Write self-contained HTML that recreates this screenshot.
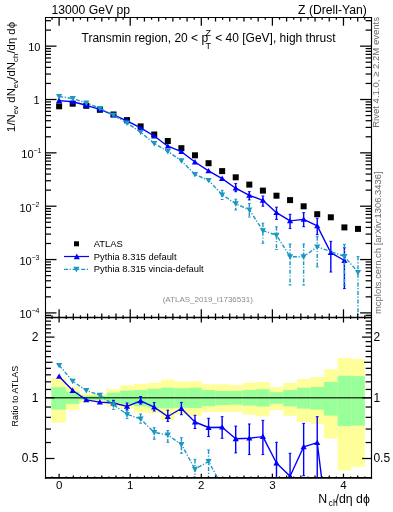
<!DOCTYPE html><html><head><meta charset="utf-8"><style>html,body{margin:0;padding:0;background:#fff;overflow:hidden}svg{display:block;will-change:transform}text{font-family:"Liberation Sans",sans-serif;}</style></head><body>
<svg width="393" height="512" viewBox="0 0 393 512">
<defs><clipPath id="cm"><rect x="45.5" y="17.5" width="325.60" height="300.00"/></clipPath><clipPath id="cr"><rect x="45.5" y="317.5" width="325.60" height="160.20"/></clipPath></defs>
<g clip-path="url(#cr)">
<rect x="51.30" y="378.00" width="14.61" height="44.60" fill="#ffff99"/>
<rect x="65.91" y="386.50" width="13.58" height="23.30" fill="#ffff99"/>
<rect x="79.50" y="393.30" width="13.58" height="9.20" fill="#ffff99"/>
<rect x="93.08" y="394.00" width="13.58" height="7.70" fill="#ffff99"/>
<rect x="106.67" y="389.20" width="13.58" height="17.80" fill="#ffff99"/>
<rect x="120.25" y="385.20" width="13.58" height="23.70" fill="#ffff99"/>
<rect x="133.84" y="383.80" width="13.58" height="28.60" fill="#ffff99"/>
<rect x="147.42" y="382.80" width="13.58" height="30.40" fill="#ffff99"/>
<rect x="161.01" y="379.70" width="13.58" height="40.30" fill="#ffff99"/>
<rect x="174.59" y="381.60" width="13.58" height="32.60" fill="#ffff99"/>
<rect x="188.18" y="381.20" width="13.58" height="34.80" fill="#ffff99"/>
<rect x="201.76" y="384.30" width="13.58" height="27.50" fill="#ffff99"/>
<rect x="215.35" y="384.30" width="13.58" height="27.70" fill="#ffff99"/>
<rect x="228.93" y="385.10" width="13.58" height="26.70" fill="#ffff99"/>
<rect x="242.52" y="382.80" width="13.58" height="31.70" fill="#ffff99"/>
<rect x="256.10" y="382.00" width="13.58" height="34.20" fill="#ffff99"/>
<rect x="269.69" y="386.90" width="13.58" height="23.10" fill="#ffff99"/>
<rect x="283.27" y="382.80" width="13.58" height="33.10" fill="#ffff99"/>
<rect x="296.86" y="379.00" width="13.58" height="43.00" fill="#ffff99"/>
<rect x="310.44" y="377.10" width="13.58" height="46.90" fill="#ffff99"/>
<rect x="324.03" y="369.30" width="13.58" height="69.20" fill="#ffff99"/>
<rect x="337.61" y="358.00" width="13.58" height="112.50" fill="#ffff99"/>
<rect x="351.20" y="359.10" width="13.58" height="107.70" fill="#ffff99"/>
<rect x="51.30" y="387.20" width="14.61" height="22.40" fill="#99ff99"/>
<rect x="65.91" y="391.70" width="13.58" height="12.20" fill="#99ff99"/>
<rect x="79.50" y="395.60" width="13.58" height="4.45" fill="#99ff99"/>
<rect x="93.08" y="395.60" width="13.58" height="4.45" fill="#99ff99"/>
<rect x="106.67" y="392.60" width="13.58" height="10.60" fill="#99ff99"/>
<rect x="120.25" y="390.60" width="13.58" height="14.20" fill="#99ff99"/>
<rect x="133.84" y="390.00" width="13.58" height="16.30" fill="#99ff99"/>
<rect x="147.42" y="388.60" width="13.58" height="19.20" fill="#99ff99"/>
<rect x="161.01" y="387.70" width="13.58" height="20.70" fill="#99ff99"/>
<rect x="174.59" y="388.20" width="13.58" height="19.60" fill="#99ff99"/>
<rect x="188.18" y="387.80" width="13.58" height="20.20" fill="#99ff99"/>
<rect x="201.76" y="390.00" width="13.58" height="16.20" fill="#99ff99"/>
<rect x="215.35" y="391.00" width="13.58" height="14.00" fill="#99ff99"/>
<rect x="228.93" y="391.00" width="13.58" height="13.70" fill="#99ff99"/>
<rect x="242.52" y="389.90" width="13.58" height="15.70" fill="#99ff99"/>
<rect x="256.10" y="389.20" width="13.58" height="17.30" fill="#99ff99"/>
<rect x="269.69" y="392.20" width="13.58" height="11.60" fill="#99ff99"/>
<rect x="283.27" y="389.90" width="13.58" height="16.40" fill="#99ff99"/>
<rect x="296.86" y="387.70" width="13.58" height="20.90" fill="#99ff99"/>
<rect x="310.44" y="386.90" width="13.58" height="22.70" fill="#99ff99"/>
<rect x="324.03" y="382.00" width="13.58" height="33.60" fill="#99ff99"/>
<rect x="337.61" y="375.70" width="13.58" height="50.50" fill="#99ff99"/>
<rect x="351.20" y="376.10" width="13.58" height="49.50" fill="#99ff99"/>
<line x1="45.5" y1="397.7" x2="371.1" y2="397.7" stroke="#000" stroke-opacity="0.72" stroke-width="1.4"/>
<polyline points="59.12,376.40 72.70,390.50 86.29,399.90 99.87,402.10 113.46,403.00 127.04,406.40 140.63,400.80 154.21,407.10 167.80,416.50 181.38,408.50 194.97,422.00 208.55,427.50 222.14,427.20 235.72,438.80 249.31,438.20 262.89,436.60 276.48,463.00 290.06,476.30 303.65,446.80 317.23,442.70 330.82,552.00" fill="none" stroke="#0000ff" stroke-width="1.4" stroke-linejoin="round"/>
<line x1="113.46" y1="400.30" x2="113.46" y2="405.60" stroke="#0000ff" stroke-width="1.4"/><line x1="112.06" y1="400.30" x2="114.86" y2="400.30" stroke="#0000ff" stroke-width="1"/><line x1="112.06" y1="405.60" x2="114.86" y2="405.60" stroke="#0000ff" stroke-width="1"/>
<line x1="127.04" y1="403.00" x2="127.04" y2="410.00" stroke="#0000ff" stroke-width="1.4"/><line x1="125.64" y1="403.00" x2="128.44" y2="403.00" stroke="#0000ff" stroke-width="1"/><line x1="125.64" y1="410.00" x2="128.44" y2="410.00" stroke="#0000ff" stroke-width="1"/>
<line x1="140.63" y1="396.50" x2="140.63" y2="404.10" stroke="#0000ff" stroke-width="1.4"/><line x1="139.23" y1="396.50" x2="142.03" y2="396.50" stroke="#0000ff" stroke-width="1"/><line x1="139.23" y1="404.10" x2="142.03" y2="404.10" stroke="#0000ff" stroke-width="1"/>
<line x1="154.21" y1="402.60" x2="154.21" y2="411.00" stroke="#0000ff" stroke-width="1.4"/><line x1="152.81" y1="402.60" x2="155.61" y2="402.60" stroke="#0000ff" stroke-width="1"/><line x1="152.81" y1="411.00" x2="155.61" y2="411.00" stroke="#0000ff" stroke-width="1"/>
<line x1="167.80" y1="410.20" x2="167.80" y2="421.40" stroke="#0000ff" stroke-width="1.4"/><line x1="166.40" y1="410.20" x2="169.20" y2="410.20" stroke="#0000ff" stroke-width="1"/><line x1="166.40" y1="421.40" x2="169.20" y2="421.40" stroke="#0000ff" stroke-width="1"/>
<line x1="181.38" y1="402.40" x2="181.38" y2="414.70" stroke="#0000ff" stroke-width="1.4"/><line x1="179.98" y1="402.40" x2="182.78" y2="402.40" stroke="#0000ff" stroke-width="1"/><line x1="179.98" y1="414.70" x2="182.78" y2="414.70" stroke="#0000ff" stroke-width="1"/>
<line x1="194.97" y1="415.30" x2="194.97" y2="428.50" stroke="#0000ff" stroke-width="1.4"/><line x1="193.57" y1="415.30" x2="196.37" y2="415.30" stroke="#0000ff" stroke-width="1"/><line x1="193.57" y1="428.50" x2="196.37" y2="428.50" stroke="#0000ff" stroke-width="1"/>
<line x1="208.55" y1="418.30" x2="208.55" y2="436.60" stroke="#0000ff" stroke-width="1.4"/><line x1="207.15" y1="418.30" x2="209.95" y2="418.30" stroke="#0000ff" stroke-width="1"/><line x1="207.15" y1="436.60" x2="209.95" y2="436.60" stroke="#0000ff" stroke-width="1"/>
<line x1="222.14" y1="416.70" x2="222.14" y2="438.30" stroke="#0000ff" stroke-width="1.4"/><line x1="220.74" y1="416.70" x2="223.54" y2="416.70" stroke="#0000ff" stroke-width="1"/><line x1="220.74" y1="438.30" x2="223.54" y2="438.30" stroke="#0000ff" stroke-width="1"/>
<line x1="235.72" y1="426.10" x2="235.72" y2="452.90" stroke="#0000ff" stroke-width="1.4"/><line x1="234.32" y1="426.10" x2="237.12" y2="426.10" stroke="#0000ff" stroke-width="1"/><line x1="234.32" y1="452.90" x2="237.12" y2="452.90" stroke="#0000ff" stroke-width="1"/>
<line x1="249.31" y1="424.00" x2="249.31" y2="454.60" stroke="#0000ff" stroke-width="1.4"/><line x1="247.91" y1="424.00" x2="250.71" y2="424.00" stroke="#0000ff" stroke-width="1"/><line x1="247.91" y1="454.60" x2="250.71" y2="454.60" stroke="#0000ff" stroke-width="1"/>
<line x1="262.89" y1="420.40" x2="262.89" y2="454.60" stroke="#0000ff" stroke-width="1.4"/><line x1="261.49" y1="420.40" x2="264.29" y2="420.40" stroke="#0000ff" stroke-width="1"/><line x1="261.49" y1="454.60" x2="264.29" y2="454.60" stroke="#0000ff" stroke-width="1"/>
<line x1="276.48" y1="442.30" x2="276.48" y2="490.00" stroke="#0000ff" stroke-width="1.4"/><line x1="275.08" y1="442.30" x2="277.88" y2="442.30" stroke="#0000ff" stroke-width="1"/><line x1="275.08" y1="490.00" x2="277.88" y2="490.00" stroke="#0000ff" stroke-width="1"/>
<line x1="290.06" y1="453.30" x2="290.06" y2="500.00" stroke="#0000ff" stroke-width="1.4"/><line x1="288.66" y1="453.30" x2="291.46" y2="453.30" stroke="#0000ff" stroke-width="1"/><line x1="288.66" y1="500.00" x2="291.46" y2="500.00" stroke="#0000ff" stroke-width="1"/>
<line x1="303.65" y1="423.40" x2="303.65" y2="475.70" stroke="#0000ff" stroke-width="1.4"/><line x1="302.25" y1="423.40" x2="305.05" y2="423.40" stroke="#0000ff" stroke-width="1"/><line x1="302.25" y1="475.70" x2="305.05" y2="475.70" stroke="#0000ff" stroke-width="1"/>
<line x1="317.23" y1="416.70" x2="317.23" y2="490.00" stroke="#0000ff" stroke-width="1.4"/><line x1="315.83" y1="416.70" x2="318.63" y2="416.70" stroke="#0000ff" stroke-width="1"/><line x1="315.83" y1="490.00" x2="318.63" y2="490.00" stroke="#0000ff" stroke-width="1"/>
<path d="M56.02,378.80L62.22,378.80L59.12,373.40Z" fill="#0000ff"/>
<path d="M69.60,392.90L75.80,392.90L72.70,387.50Z" fill="#0000ff"/>
<path d="M83.19,402.30L89.39,402.30L86.29,396.90Z" fill="#0000ff"/>
<path d="M96.77,404.50L102.97,404.50L99.87,399.10Z" fill="#0000ff"/>
<path d="M110.36,405.40L116.56,405.40L113.46,400.00Z" fill="#0000ff"/>
<path d="M123.94,408.80L130.14,408.80L127.04,403.40Z" fill="#0000ff"/>
<path d="M137.53,403.20L143.73,403.20L140.63,397.80Z" fill="#0000ff"/>
<path d="M151.11,409.50L157.31,409.50L154.21,404.10Z" fill="#0000ff"/>
<path d="M164.70,418.90L170.90,418.90L167.80,413.50Z" fill="#0000ff"/>
<path d="M178.28,410.90L184.48,410.90L181.38,405.50Z" fill="#0000ff"/>
<path d="M191.87,424.40L198.07,424.40L194.97,419.00Z" fill="#0000ff"/>
<path d="M205.45,429.90L211.65,429.90L208.55,424.50Z" fill="#0000ff"/>
<path d="M219.04,429.60L225.24,429.60L222.14,424.20Z" fill="#0000ff"/>
<path d="M232.62,441.20L238.82,441.20L235.72,435.80Z" fill="#0000ff"/>
<path d="M246.21,440.60L252.41,440.60L249.31,435.20Z" fill="#0000ff"/>
<path d="M259.79,439.00L265.99,439.00L262.89,433.60Z" fill="#0000ff"/>
<path d="M273.38,465.40L279.58,465.40L276.48,460.00Z" fill="#0000ff"/>
<path d="M286.96,478.70L293.16,478.70L290.06,473.30Z" fill="#0000ff"/>
<path d="M300.55,449.20L306.75,449.20L303.65,443.80Z" fill="#0000ff"/>
<path d="M314.13,445.10L320.33,445.10L317.23,439.70Z" fill="#0000ff"/>
<path d="M327.72,554.40L333.92,554.40L330.82,549.00Z" fill="#0000ff"/>
<polyline points="59.12,365.30 72.70,381.20 86.29,390.50 99.87,395.20 113.46,404.80 127.04,414.30 140.63,419.00 154.21,432.40 167.80,435.00 181.38,444.40 194.97,469.20 208.55,461.50 222.14,486.00" fill="none" stroke="#1a97c2" stroke-width="1.4" stroke-dasharray="4,1.6,1.2,1.8" stroke-linejoin="round"/>
<line x1="113.46" y1="401.80" x2="113.46" y2="409.40" stroke="#1a97c2" stroke-width="1.4" stroke-dasharray="4,1.6,1.2,1.8"/><line x1="112.06" y1="401.80" x2="114.86" y2="401.80" stroke="#1a97c2" stroke-width="1"/><line x1="112.06" y1="409.40" x2="114.86" y2="409.40" stroke="#1a97c2" stroke-width="1"/>
<line x1="127.04" y1="410.60" x2="127.04" y2="418.60" stroke="#1a97c2" stroke-width="1.4" stroke-dasharray="4,1.6,1.2,1.8"/><line x1="125.64" y1="410.60" x2="128.44" y2="410.60" stroke="#1a97c2" stroke-width="1"/><line x1="125.64" y1="418.60" x2="128.44" y2="418.60" stroke="#1a97c2" stroke-width="1"/>
<line x1="140.63" y1="414.00" x2="140.63" y2="423.20" stroke="#1a97c2" stroke-width="1.4" stroke-dasharray="4,1.6,1.2,1.8"/><line x1="139.23" y1="414.00" x2="142.03" y2="414.00" stroke="#1a97c2" stroke-width="1"/><line x1="139.23" y1="423.20" x2="142.03" y2="423.20" stroke="#1a97c2" stroke-width="1"/>
<line x1="154.21" y1="427.70" x2="154.21" y2="439.20" stroke="#1a97c2" stroke-width="1.4" stroke-dasharray="4,1.6,1.2,1.8"/><line x1="152.81" y1="427.70" x2="155.61" y2="427.70" stroke="#1a97c2" stroke-width="1"/><line x1="152.81" y1="439.20" x2="155.61" y2="439.20" stroke="#1a97c2" stroke-width="1"/>
<line x1="167.80" y1="430.50" x2="167.80" y2="442.30" stroke="#1a97c2" stroke-width="1.4" stroke-dasharray="4,1.6,1.2,1.8"/><line x1="166.40" y1="430.50" x2="169.20" y2="430.50" stroke="#1a97c2" stroke-width="1"/><line x1="166.40" y1="442.30" x2="169.20" y2="442.30" stroke="#1a97c2" stroke-width="1"/>
<line x1="181.38" y1="437.70" x2="181.38" y2="453.30" stroke="#1a97c2" stroke-width="1.4" stroke-dasharray="4,1.6,1.2,1.8"/><line x1="179.98" y1="437.70" x2="182.78" y2="437.70" stroke="#1a97c2" stroke-width="1"/><line x1="179.98" y1="453.30" x2="182.78" y2="453.30" stroke="#1a97c2" stroke-width="1"/>
<line x1="194.97" y1="459.40" x2="194.97" y2="490.00" stroke="#1a97c2" stroke-width="1.4" stroke-dasharray="4,1.6,1.2,1.8"/><line x1="193.57" y1="459.40" x2="196.37" y2="459.40" stroke="#1a97c2" stroke-width="1"/><line x1="193.57" y1="490.00" x2="196.37" y2="490.00" stroke="#1a97c2" stroke-width="1"/>
<line x1="208.55" y1="449.90" x2="208.55" y2="490.00" stroke="#1a97c2" stroke-width="1.4" stroke-dasharray="4,1.6,1.2,1.8"/><line x1="207.15" y1="449.90" x2="209.95" y2="449.90" stroke="#1a97c2" stroke-width="1"/><line x1="207.15" y1="490.00" x2="209.95" y2="490.00" stroke="#1a97c2" stroke-width="1"/>
<path d="M56.02,362.90L62.22,362.90L59.12,368.30Z" fill="#1a97c2"/>
<path d="M69.60,378.80L75.80,378.80L72.70,384.20Z" fill="#1a97c2"/>
<path d="M83.19,388.10L89.39,388.10L86.29,393.50Z" fill="#1a97c2"/>
<path d="M96.77,392.80L102.97,392.80L99.87,398.20Z" fill="#1a97c2"/>
<path d="M110.36,402.40L116.56,402.40L113.46,407.80Z" fill="#1a97c2"/>
<path d="M123.94,411.90L130.14,411.90L127.04,417.30Z" fill="#1a97c2"/>
<path d="M137.53,416.60L143.73,416.60L140.63,422.00Z" fill="#1a97c2"/>
<path d="M151.11,430.00L157.31,430.00L154.21,435.40Z" fill="#1a97c2"/>
<path d="M164.70,432.60L170.90,432.60L167.80,438.00Z" fill="#1a97c2"/>
<path d="M178.28,442.00L184.48,442.00L181.38,447.40Z" fill="#1a97c2"/>
<path d="M191.87,466.80L198.07,466.80L194.97,472.20Z" fill="#1a97c2"/>
<path d="M205.45,459.10L211.65,459.10L208.55,464.50Z" fill="#1a97c2"/>
<path d="M219.04,483.60L225.24,483.60L222.14,489.00Z" fill="#1a97c2"/>
</g>
<g clip-path="url(#cm)">
<rect x="56.12" y="103.30" width="6" height="6" fill="#000"/>
<rect x="69.70" y="100.70" width="6" height="6" fill="#000"/>
<rect x="83.29" y="102.80" width="6" height="6" fill="#000"/>
<rect x="96.87" y="106.80" width="6" height="6" fill="#000"/>
<rect x="110.46" y="111.50" width="6" height="6" fill="#000"/>
<rect x="124.04" y="117.10" width="6" height="6" fill="#000"/>
<rect x="137.63" y="123.40" width="6" height="6" fill="#000"/>
<rect x="151.21" y="131.50" width="6" height="6" fill="#000"/>
<rect x="164.80" y="138.00" width="6" height="6" fill="#000"/>
<rect x="178.38" y="145.20" width="6" height="6" fill="#000"/>
<rect x="191.97" y="152.30" width="6" height="6" fill="#000"/>
<rect x="205.55" y="160.20" width="6" height="6" fill="#000"/>
<rect x="219.14" y="168.10" width="6" height="6" fill="#000"/>
<rect x="232.72" y="174.30" width="6" height="6" fill="#000"/>
<rect x="246.31" y="181.60" width="6" height="6" fill="#000"/>
<rect x="259.89" y="187.60" width="6" height="6" fill="#000"/>
<rect x="273.48" y="192.70" width="6" height="6" fill="#000"/>
<rect x="287.06" y="197.10" width="6" height="6" fill="#000"/>
<rect x="300.65" y="203.30" width="6" height="6" fill="#000"/>
<rect x="314.23" y="211.20" width="6" height="6" fill="#000"/>
<rect x="327.82" y="214.30" width="6" height="6" fill="#000"/>
<rect x="341.40" y="224.40" width="6" height="6" fill="#000"/>
<rect x="354.99" y="225.90" width="6" height="6" fill="#000"/>
<polyline points="59.12,100.60 72.70,101.80 86.29,105.30 99.87,109.30 113.46,114.80 127.04,120.80 140.63,127.90 154.21,136.00 167.80,146.20 181.38,151.70 194.97,162.00 208.55,170.90 222.14,178.60 235.72,188.20 249.31,195.30 262.89,200.30 276.48,212.70 290.06,220.90 303.65,219.40 317.23,225.90 330.82,252.70 344.40,260.50" fill="none" stroke="#0000ff" stroke-width="1.4" stroke-linejoin="round"/>
<line x1="235.72" y1="183.60" x2="235.72" y2="191.70" stroke="#0000ff" stroke-width="1.4"/><line x1="234.32" y1="183.60" x2="237.12" y2="183.60" stroke="#0000ff" stroke-width="1"/><line x1="234.32" y1="191.70" x2="237.12" y2="191.70" stroke="#0000ff" stroke-width="1"/>
<line x1="249.31" y1="191.70" x2="249.31" y2="199.90" stroke="#0000ff" stroke-width="1.4"/><line x1="247.91" y1="191.70" x2="250.71" y2="191.70" stroke="#0000ff" stroke-width="1"/><line x1="247.91" y1="199.90" x2="250.71" y2="199.90" stroke="#0000ff" stroke-width="1"/>
<line x1="262.89" y1="196.00" x2="262.89" y2="206.20" stroke="#0000ff" stroke-width="1.4"/><line x1="261.49" y1="196.00" x2="264.29" y2="196.00" stroke="#0000ff" stroke-width="1"/><line x1="261.49" y1="206.20" x2="264.29" y2="206.20" stroke="#0000ff" stroke-width="1"/>
<line x1="276.48" y1="207.20" x2="276.48" y2="219.40" stroke="#0000ff" stroke-width="1.4"/><line x1="275.08" y1="207.20" x2="277.88" y2="207.20" stroke="#0000ff" stroke-width="1"/><line x1="275.08" y1="219.40" x2="277.88" y2="219.40" stroke="#0000ff" stroke-width="1"/>
<line x1="290.06" y1="214.30" x2="290.06" y2="228.60" stroke="#0000ff" stroke-width="1.4"/><line x1="288.66" y1="214.30" x2="291.46" y2="214.30" stroke="#0000ff" stroke-width="1"/><line x1="288.66" y1="228.60" x2="291.46" y2="228.60" stroke="#0000ff" stroke-width="1"/>
<line x1="303.65" y1="212.70" x2="303.65" y2="226.70" stroke="#0000ff" stroke-width="1.4"/><line x1="302.25" y1="212.70" x2="305.05" y2="212.70" stroke="#0000ff" stroke-width="1"/><line x1="302.25" y1="226.70" x2="305.05" y2="226.70" stroke="#0000ff" stroke-width="1"/>
<line x1="317.23" y1="218.20" x2="317.23" y2="234.70" stroke="#0000ff" stroke-width="1.4"/><line x1="315.83" y1="218.20" x2="318.63" y2="218.20" stroke="#0000ff" stroke-width="1"/><line x1="315.83" y1="234.70" x2="318.63" y2="234.70" stroke="#0000ff" stroke-width="1"/>
<line x1="330.82" y1="241.30" x2="330.82" y2="272.00" stroke="#0000ff" stroke-width="1.4"/><line x1="329.42" y1="241.30" x2="332.22" y2="241.30" stroke="#0000ff" stroke-width="1"/><line x1="329.42" y1="272.00" x2="332.22" y2="272.00" stroke="#0000ff" stroke-width="1"/>
<line x1="344.40" y1="247.80" x2="344.40" y2="288.60" stroke="#0000ff" stroke-width="1.4"/><line x1="343.00" y1="247.80" x2="345.80" y2="247.80" stroke="#0000ff" stroke-width="1"/><line x1="343.00" y1="288.60" x2="345.80" y2="288.60" stroke="#0000ff" stroke-width="1"/>
<path d="M56.02,103.00L62.22,103.00L59.12,97.60Z" fill="#0000ff"/>
<path d="M69.60,104.20L75.80,104.20L72.70,98.80Z" fill="#0000ff"/>
<path d="M83.19,107.70L89.39,107.70L86.29,102.30Z" fill="#0000ff"/>
<path d="M96.77,111.70L102.97,111.70L99.87,106.30Z" fill="#0000ff"/>
<path d="M110.36,117.20L116.56,117.20L113.46,111.80Z" fill="#0000ff"/>
<path d="M123.94,123.20L130.14,123.20L127.04,117.80Z" fill="#0000ff"/>
<path d="M137.53,130.30L143.73,130.30L140.63,124.90Z" fill="#0000ff"/>
<path d="M151.11,138.40L157.31,138.40L154.21,133.00Z" fill="#0000ff"/>
<path d="M164.70,148.60L170.90,148.60L167.80,143.20Z" fill="#0000ff"/>
<path d="M178.28,154.10L184.48,154.10L181.38,148.70Z" fill="#0000ff"/>
<path d="M191.87,164.40L198.07,164.40L194.97,159.00Z" fill="#0000ff"/>
<path d="M205.45,173.30L211.65,173.30L208.55,167.90Z" fill="#0000ff"/>
<path d="M219.04,181.00L225.24,181.00L222.14,175.60Z" fill="#0000ff"/>
<path d="M232.62,190.60L238.82,190.60L235.72,185.20Z" fill="#0000ff"/>
<path d="M246.21,197.70L252.41,197.70L249.31,192.30Z" fill="#0000ff"/>
<path d="M259.79,202.70L265.99,202.70L262.89,197.30Z" fill="#0000ff"/>
<path d="M273.38,215.10L279.58,215.10L276.48,209.70Z" fill="#0000ff"/>
<path d="M286.96,223.30L293.16,223.30L290.06,217.90Z" fill="#0000ff"/>
<path d="M300.55,221.80L306.75,221.80L303.65,216.40Z" fill="#0000ff"/>
<path d="M314.13,228.30L320.33,228.30L317.23,222.90Z" fill="#0000ff"/>
<path d="M327.72,255.10L333.92,255.10L330.82,249.70Z" fill="#0000ff"/>
<path d="M341.30,262.90L347.50,262.90L344.40,257.50Z" fill="#0000ff"/>
<polyline points="59.12,96.50 72.70,98.50 86.29,103.00 99.87,108.30 113.46,115.20 127.04,123.00 140.63,132.20 154.21,143.40 167.80,151.40 181.38,160.70 194.97,174.50 208.55,180.30 222.14,194.80 235.72,203.70 249.31,209.80 262.89,230.60 276.48,235.20 290.06,256.70 303.65,256.70 317.23,246.80 344.40,256.40 357.99,272.30" fill="none" stroke="#1a97c2" stroke-width="1.4" stroke-dasharray="4,1.6,1.2,1.8" stroke-linejoin="round"/>
<line x1="222.14" y1="190.30" x2="222.14" y2="199.50" stroke="#1a97c2" stroke-width="1.4" stroke-dasharray="4,1.6,1.2,1.8"/><line x1="220.74" y1="190.30" x2="223.54" y2="190.30" stroke="#1a97c2" stroke-width="1"/><line x1="220.74" y1="199.50" x2="223.54" y2="199.50" stroke="#1a97c2" stroke-width="1"/>
<line x1="235.72" y1="199.20" x2="235.72" y2="209.90" stroke="#1a97c2" stroke-width="1.4" stroke-dasharray="4,1.6,1.2,1.8"/><line x1="234.32" y1="199.20" x2="237.12" y2="199.20" stroke="#1a97c2" stroke-width="1"/><line x1="234.32" y1="209.90" x2="237.12" y2="209.90" stroke="#1a97c2" stroke-width="1"/>
<line x1="249.31" y1="203.60" x2="249.31" y2="217.00" stroke="#1a97c2" stroke-width="1.4" stroke-dasharray="4,1.6,1.2,1.8"/><line x1="247.91" y1="203.60" x2="250.71" y2="203.60" stroke="#1a97c2" stroke-width="1"/><line x1="247.91" y1="217.00" x2="250.71" y2="217.00" stroke="#1a97c2" stroke-width="1"/>
<line x1="262.89" y1="223.20" x2="262.89" y2="243.20" stroke="#1a97c2" stroke-width="1.4" stroke-dasharray="4,1.6,1.2,1.8"/><line x1="261.49" y1="223.20" x2="264.29" y2="223.20" stroke="#1a97c2" stroke-width="1"/><line x1="261.49" y1="243.20" x2="264.29" y2="243.20" stroke="#1a97c2" stroke-width="1"/>
<line x1="276.48" y1="226.80" x2="276.48" y2="249.40" stroke="#1a97c2" stroke-width="1.4" stroke-dasharray="4,1.6,1.2,1.8"/><line x1="275.08" y1="226.80" x2="277.88" y2="226.80" stroke="#1a97c2" stroke-width="1"/><line x1="275.08" y1="249.40" x2="277.88" y2="249.40" stroke="#1a97c2" stroke-width="1"/>
<line x1="290.06" y1="244.00" x2="290.06" y2="285.00" stroke="#1a97c2" stroke-width="1.4" stroke-dasharray="4,1.6,1.2,1.8"/><line x1="288.66" y1="244.00" x2="291.46" y2="244.00" stroke="#1a97c2" stroke-width="1"/><line x1="288.66" y1="285.00" x2="291.46" y2="285.00" stroke="#1a97c2" stroke-width="1"/>
<line x1="303.65" y1="244.00" x2="303.65" y2="285.00" stroke="#1a97c2" stroke-width="1.4" stroke-dasharray="4,1.6,1.2,1.8"/><line x1="302.25" y1="244.00" x2="305.05" y2="244.00" stroke="#1a97c2" stroke-width="1"/><line x1="302.25" y1="285.00" x2="305.05" y2="285.00" stroke="#1a97c2" stroke-width="1"/>
<line x1="317.23" y1="236.70" x2="317.23" y2="266.90" stroke="#1a97c2" stroke-width="1.4" stroke-dasharray="4,1.6,1.2,1.8"/><line x1="315.83" y1="236.70" x2="318.63" y2="236.70" stroke="#1a97c2" stroke-width="1"/><line x1="315.83" y1="266.90" x2="318.63" y2="266.90" stroke="#1a97c2" stroke-width="1"/>
<line x1="344.40" y1="244.30" x2="344.40" y2="285.00" stroke="#1a97c2" stroke-width="1.4" stroke-dasharray="4,1.6,1.2,1.8"/><line x1="343.00" y1="244.30" x2="345.80" y2="244.30" stroke="#1a97c2" stroke-width="1"/><line x1="343.00" y1="285.00" x2="345.80" y2="285.00" stroke="#1a97c2" stroke-width="1"/>
<line x1="357.99" y1="256.60" x2="357.99" y2="318.00" stroke="#1a97c2" stroke-width="1.4" stroke-dasharray="4,1.6,1.2,1.8"/><line x1="356.59" y1="256.60" x2="359.39" y2="256.60" stroke="#1a97c2" stroke-width="1"/><line x1="356.59" y1="318.00" x2="359.39" y2="318.00" stroke="#1a97c2" stroke-width="1"/>
<path d="M56.02,94.10L62.22,94.10L59.12,99.50Z" fill="#1a97c2"/>
<path d="M69.60,96.10L75.80,96.10L72.70,101.50Z" fill="#1a97c2"/>
<path d="M83.19,100.60L89.39,100.60L86.29,106.00Z" fill="#1a97c2"/>
<path d="M96.77,105.90L102.97,105.90L99.87,111.30Z" fill="#1a97c2"/>
<path d="M110.36,112.80L116.56,112.80L113.46,118.20Z" fill="#1a97c2"/>
<path d="M123.94,120.60L130.14,120.60L127.04,126.00Z" fill="#1a97c2"/>
<path d="M137.53,129.80L143.73,129.80L140.63,135.20Z" fill="#1a97c2"/>
<path d="M151.11,141.00L157.31,141.00L154.21,146.40Z" fill="#1a97c2"/>
<path d="M164.70,149.00L170.90,149.00L167.80,154.40Z" fill="#1a97c2"/>
<path d="M178.28,158.30L184.48,158.30L181.38,163.70Z" fill="#1a97c2"/>
<path d="M191.87,172.10L198.07,172.10L194.97,177.50Z" fill="#1a97c2"/>
<path d="M205.45,177.90L211.65,177.90L208.55,183.30Z" fill="#1a97c2"/>
<path d="M219.04,192.40L225.24,192.40L222.14,197.80Z" fill="#1a97c2"/>
<path d="M232.62,201.30L238.82,201.30L235.72,206.70Z" fill="#1a97c2"/>
<path d="M246.21,207.40L252.41,207.40L249.31,212.80Z" fill="#1a97c2"/>
<path d="M259.79,228.20L265.99,228.20L262.89,233.60Z" fill="#1a97c2"/>
<path d="M273.38,232.80L279.58,232.80L276.48,238.20Z" fill="#1a97c2"/>
<path d="M286.96,254.30L293.16,254.30L290.06,259.70Z" fill="#1a97c2"/>
<path d="M300.55,254.30L306.75,254.30L303.65,259.70Z" fill="#1a97c2"/>
<path d="M314.13,244.40L320.33,244.40L317.23,249.80Z" fill="#1a97c2"/>
<path d="M341.30,254.00L347.50,254.00L344.40,259.40Z" fill="#1a97c2"/>
<path d="M354.89,269.90L361.09,269.90L357.99,275.30Z" fill="#1a97c2"/>
</g>
<line x1="45.50" y1="315.34" x2="51.00" y2="315.34" stroke="#000" stroke-width="1.25"/><line x1="371.10" y1="315.34" x2="365.60" y2="315.34" stroke="#000" stroke-width="1.25"/><line x1="45.50" y1="312.90" x2="56.50" y2="312.90" stroke="#000" stroke-width="1.25"/><line x1="371.10" y1="312.90" x2="360.10" y2="312.90" stroke="#000" stroke-width="1.25"/><line x1="45.50" y1="296.84" x2="51.00" y2="296.84" stroke="#000" stroke-width="1.25"/><line x1="371.10" y1="296.84" x2="365.60" y2="296.84" stroke="#000" stroke-width="1.25"/><line x1="45.50" y1="287.45" x2="51.00" y2="287.45" stroke="#000" stroke-width="1.25"/><line x1="371.10" y1="287.45" x2="365.60" y2="287.45" stroke="#000" stroke-width="1.25"/><line x1="45.50" y1="280.78" x2="51.00" y2="280.78" stroke="#000" stroke-width="1.25"/><line x1="371.10" y1="280.78" x2="365.60" y2="280.78" stroke="#000" stroke-width="1.25"/><line x1="45.50" y1="275.61" x2="51.00" y2="275.61" stroke="#000" stroke-width="1.25"/><line x1="371.10" y1="275.61" x2="365.60" y2="275.61" stroke="#000" stroke-width="1.25"/><line x1="45.50" y1="271.39" x2="51.00" y2="271.39" stroke="#000" stroke-width="1.25"/><line x1="371.10" y1="271.39" x2="365.60" y2="271.39" stroke="#000" stroke-width="1.25"/><line x1="45.50" y1="267.81" x2="51.00" y2="267.81" stroke="#000" stroke-width="1.25"/><line x1="371.10" y1="267.81" x2="365.60" y2="267.81" stroke="#000" stroke-width="1.25"/><line x1="45.50" y1="264.72" x2="51.00" y2="264.72" stroke="#000" stroke-width="1.25"/><line x1="371.10" y1="264.72" x2="365.60" y2="264.72" stroke="#000" stroke-width="1.25"/><line x1="45.50" y1="261.99" x2="51.00" y2="261.99" stroke="#000" stroke-width="1.25"/><line x1="371.10" y1="261.99" x2="365.60" y2="261.99" stroke="#000" stroke-width="1.25"/><line x1="45.50" y1="259.55" x2="56.50" y2="259.55" stroke="#000" stroke-width="1.25"/><line x1="371.10" y1="259.55" x2="360.10" y2="259.55" stroke="#000" stroke-width="1.25"/><line x1="45.50" y1="243.49" x2="51.00" y2="243.49" stroke="#000" stroke-width="1.25"/><line x1="371.10" y1="243.49" x2="365.60" y2="243.49" stroke="#000" stroke-width="1.25"/><line x1="45.50" y1="234.10" x2="51.00" y2="234.10" stroke="#000" stroke-width="1.25"/><line x1="371.10" y1="234.10" x2="365.60" y2="234.10" stroke="#000" stroke-width="1.25"/><line x1="45.50" y1="227.43" x2="51.00" y2="227.43" stroke="#000" stroke-width="1.25"/><line x1="371.10" y1="227.43" x2="365.60" y2="227.43" stroke="#000" stroke-width="1.25"/><line x1="45.50" y1="222.26" x2="51.00" y2="222.26" stroke="#000" stroke-width="1.25"/><line x1="371.10" y1="222.26" x2="365.60" y2="222.26" stroke="#000" stroke-width="1.25"/><line x1="45.50" y1="218.04" x2="51.00" y2="218.04" stroke="#000" stroke-width="1.25"/><line x1="371.10" y1="218.04" x2="365.60" y2="218.04" stroke="#000" stroke-width="1.25"/><line x1="45.50" y1="214.46" x2="51.00" y2="214.46" stroke="#000" stroke-width="1.25"/><line x1="371.10" y1="214.46" x2="365.60" y2="214.46" stroke="#000" stroke-width="1.25"/><line x1="45.50" y1="211.37" x2="51.00" y2="211.37" stroke="#000" stroke-width="1.25"/><line x1="371.10" y1="211.37" x2="365.60" y2="211.37" stroke="#000" stroke-width="1.25"/><line x1="45.50" y1="208.64" x2="51.00" y2="208.64" stroke="#000" stroke-width="1.25"/><line x1="371.10" y1="208.64" x2="365.60" y2="208.64" stroke="#000" stroke-width="1.25"/><line x1="45.50" y1="206.20" x2="56.50" y2="206.20" stroke="#000" stroke-width="1.25"/><line x1="371.10" y1="206.20" x2="360.10" y2="206.20" stroke="#000" stroke-width="1.25"/><line x1="45.50" y1="190.14" x2="51.00" y2="190.14" stroke="#000" stroke-width="1.25"/><line x1="371.10" y1="190.14" x2="365.60" y2="190.14" stroke="#000" stroke-width="1.25"/><line x1="45.50" y1="180.75" x2="51.00" y2="180.75" stroke="#000" stroke-width="1.25"/><line x1="371.10" y1="180.75" x2="365.60" y2="180.75" stroke="#000" stroke-width="1.25"/><line x1="45.50" y1="174.08" x2="51.00" y2="174.08" stroke="#000" stroke-width="1.25"/><line x1="371.10" y1="174.08" x2="365.60" y2="174.08" stroke="#000" stroke-width="1.25"/><line x1="45.50" y1="168.91" x2="51.00" y2="168.91" stroke="#000" stroke-width="1.25"/><line x1="371.10" y1="168.91" x2="365.60" y2="168.91" stroke="#000" stroke-width="1.25"/><line x1="45.50" y1="164.69" x2="51.00" y2="164.69" stroke="#000" stroke-width="1.25"/><line x1="371.10" y1="164.69" x2="365.60" y2="164.69" stroke="#000" stroke-width="1.25"/><line x1="45.50" y1="161.11" x2="51.00" y2="161.11" stroke="#000" stroke-width="1.25"/><line x1="371.10" y1="161.11" x2="365.60" y2="161.11" stroke="#000" stroke-width="1.25"/><line x1="45.50" y1="158.02" x2="51.00" y2="158.02" stroke="#000" stroke-width="1.25"/><line x1="371.10" y1="158.02" x2="365.60" y2="158.02" stroke="#000" stroke-width="1.25"/><line x1="45.50" y1="155.29" x2="51.00" y2="155.29" stroke="#000" stroke-width="1.25"/><line x1="371.10" y1="155.29" x2="365.60" y2="155.29" stroke="#000" stroke-width="1.25"/><line x1="45.50" y1="152.85" x2="56.50" y2="152.85" stroke="#000" stroke-width="1.25"/><line x1="371.10" y1="152.85" x2="360.10" y2="152.85" stroke="#000" stroke-width="1.25"/><line x1="45.50" y1="136.79" x2="51.00" y2="136.79" stroke="#000" stroke-width="1.25"/><line x1="371.10" y1="136.79" x2="365.60" y2="136.79" stroke="#000" stroke-width="1.25"/><line x1="45.50" y1="127.40" x2="51.00" y2="127.40" stroke="#000" stroke-width="1.25"/><line x1="371.10" y1="127.40" x2="365.60" y2="127.40" stroke="#000" stroke-width="1.25"/><line x1="45.50" y1="120.73" x2="51.00" y2="120.73" stroke="#000" stroke-width="1.25"/><line x1="371.10" y1="120.73" x2="365.60" y2="120.73" stroke="#000" stroke-width="1.25"/><line x1="45.50" y1="115.56" x2="51.00" y2="115.56" stroke="#000" stroke-width="1.25"/><line x1="371.10" y1="115.56" x2="365.60" y2="115.56" stroke="#000" stroke-width="1.25"/><line x1="45.50" y1="111.34" x2="51.00" y2="111.34" stroke="#000" stroke-width="1.25"/><line x1="371.10" y1="111.34" x2="365.60" y2="111.34" stroke="#000" stroke-width="1.25"/><line x1="45.50" y1="107.76" x2="51.00" y2="107.76" stroke="#000" stroke-width="1.25"/><line x1="371.10" y1="107.76" x2="365.60" y2="107.76" stroke="#000" stroke-width="1.25"/><line x1="45.50" y1="104.67" x2="51.00" y2="104.67" stroke="#000" stroke-width="1.25"/><line x1="371.10" y1="104.67" x2="365.60" y2="104.67" stroke="#000" stroke-width="1.25"/><line x1="45.50" y1="101.94" x2="51.00" y2="101.94" stroke="#000" stroke-width="1.25"/><line x1="371.10" y1="101.94" x2="365.60" y2="101.94" stroke="#000" stroke-width="1.25"/><line x1="45.50" y1="99.50" x2="56.50" y2="99.50" stroke="#000" stroke-width="1.25"/><line x1="371.10" y1="99.50" x2="360.10" y2="99.50" stroke="#000" stroke-width="1.25"/><line x1="45.50" y1="83.44" x2="51.00" y2="83.44" stroke="#000" stroke-width="1.25"/><line x1="371.10" y1="83.44" x2="365.60" y2="83.44" stroke="#000" stroke-width="1.25"/><line x1="45.50" y1="74.05" x2="51.00" y2="74.05" stroke="#000" stroke-width="1.25"/><line x1="371.10" y1="74.05" x2="365.60" y2="74.05" stroke="#000" stroke-width="1.25"/><line x1="45.50" y1="67.38" x2="51.00" y2="67.38" stroke="#000" stroke-width="1.25"/><line x1="371.10" y1="67.38" x2="365.60" y2="67.38" stroke="#000" stroke-width="1.25"/><line x1="45.50" y1="62.21" x2="51.00" y2="62.21" stroke="#000" stroke-width="1.25"/><line x1="371.10" y1="62.21" x2="365.60" y2="62.21" stroke="#000" stroke-width="1.25"/><line x1="45.50" y1="57.99" x2="51.00" y2="57.99" stroke="#000" stroke-width="1.25"/><line x1="371.10" y1="57.99" x2="365.60" y2="57.99" stroke="#000" stroke-width="1.25"/><line x1="45.50" y1="54.41" x2="51.00" y2="54.41" stroke="#000" stroke-width="1.25"/><line x1="371.10" y1="54.41" x2="365.60" y2="54.41" stroke="#000" stroke-width="1.25"/><line x1="45.50" y1="51.32" x2="51.00" y2="51.32" stroke="#000" stroke-width="1.25"/><line x1="371.10" y1="51.32" x2="365.60" y2="51.32" stroke="#000" stroke-width="1.25"/><line x1="45.50" y1="48.59" x2="51.00" y2="48.59" stroke="#000" stroke-width="1.25"/><line x1="371.10" y1="48.59" x2="365.60" y2="48.59" stroke="#000" stroke-width="1.25"/><line x1="45.50" y1="46.15" x2="56.50" y2="46.15" stroke="#000" stroke-width="1.25"/><line x1="371.10" y1="46.15" x2="360.10" y2="46.15" stroke="#000" stroke-width="1.25"/><line x1="45.50" y1="30.09" x2="51.00" y2="30.09" stroke="#000" stroke-width="1.25"/><line x1="371.10" y1="30.09" x2="365.60" y2="30.09" stroke="#000" stroke-width="1.25"/><line x1="45.50" y1="20.70" x2="51.00" y2="20.70" stroke="#000" stroke-width="1.25"/><line x1="371.10" y1="20.70" x2="365.60" y2="20.70" stroke="#000" stroke-width="1.25"/><line x1="52.01" y1="17.50" x2="52.01" y2="19.70" stroke="#000" stroke-width="1.25"/><line x1="52.01" y1="317.50" x2="52.01" y2="315.30" stroke="#000" stroke-width="1.25"/><line x1="52.01" y1="317.50" x2="52.01" y2="319.00" stroke="#000" stroke-width="1.25"/><line x1="52.01" y1="477.70" x2="52.01" y2="476.40" stroke="#000" stroke-width="1.25"/><line x1="59.12" y1="17.50" x2="59.12" y2="25.70" stroke="#000" stroke-width="1.25"/><line x1="59.12" y1="317.50" x2="59.12" y2="309.30" stroke="#000" stroke-width="1.25"/><line x1="59.12" y1="317.50" x2="59.12" y2="322.50" stroke="#000" stroke-width="1.25"/><line x1="59.12" y1="477.70" x2="59.12" y2="473.70" stroke="#000" stroke-width="1.25"/><line x1="66.23" y1="17.50" x2="66.23" y2="19.70" stroke="#000" stroke-width="1.25"/><line x1="66.23" y1="317.50" x2="66.23" y2="315.30" stroke="#000" stroke-width="1.25"/><line x1="66.23" y1="317.50" x2="66.23" y2="319.00" stroke="#000" stroke-width="1.25"/><line x1="66.23" y1="477.70" x2="66.23" y2="476.40" stroke="#000" stroke-width="1.25"/><line x1="73.34" y1="17.50" x2="73.34" y2="21.50" stroke="#000" stroke-width="1.25"/><line x1="73.34" y1="317.50" x2="73.34" y2="313.50" stroke="#000" stroke-width="1.25"/><line x1="73.34" y1="317.50" x2="73.34" y2="320.00" stroke="#000" stroke-width="1.25"/><line x1="73.34" y1="477.70" x2="73.34" y2="475.50" stroke="#000" stroke-width="1.25"/><line x1="80.45" y1="17.50" x2="80.45" y2="19.70" stroke="#000" stroke-width="1.25"/><line x1="80.45" y1="317.50" x2="80.45" y2="315.30" stroke="#000" stroke-width="1.25"/><line x1="80.45" y1="317.50" x2="80.45" y2="319.00" stroke="#000" stroke-width="1.25"/><line x1="80.45" y1="477.70" x2="80.45" y2="476.40" stroke="#000" stroke-width="1.25"/><line x1="87.56" y1="17.50" x2="87.56" y2="21.50" stroke="#000" stroke-width="1.25"/><line x1="87.56" y1="317.50" x2="87.56" y2="313.50" stroke="#000" stroke-width="1.25"/><line x1="87.56" y1="317.50" x2="87.56" y2="320.00" stroke="#000" stroke-width="1.25"/><line x1="87.56" y1="477.70" x2="87.56" y2="475.50" stroke="#000" stroke-width="1.25"/><line x1="94.66" y1="17.50" x2="94.66" y2="19.70" stroke="#000" stroke-width="1.25"/><line x1="94.66" y1="317.50" x2="94.66" y2="315.30" stroke="#000" stroke-width="1.25"/><line x1="94.66" y1="317.50" x2="94.66" y2="319.00" stroke="#000" stroke-width="1.25"/><line x1="94.66" y1="477.70" x2="94.66" y2="476.40" stroke="#000" stroke-width="1.25"/><line x1="101.77" y1="17.50" x2="101.77" y2="21.50" stroke="#000" stroke-width="1.25"/><line x1="101.77" y1="317.50" x2="101.77" y2="313.50" stroke="#000" stroke-width="1.25"/><line x1="101.77" y1="317.50" x2="101.77" y2="320.00" stroke="#000" stroke-width="1.25"/><line x1="101.77" y1="477.70" x2="101.77" y2="475.50" stroke="#000" stroke-width="1.25"/><line x1="108.88" y1="17.50" x2="108.88" y2="19.70" stroke="#000" stroke-width="1.25"/><line x1="108.88" y1="317.50" x2="108.88" y2="315.30" stroke="#000" stroke-width="1.25"/><line x1="108.88" y1="317.50" x2="108.88" y2="319.00" stroke="#000" stroke-width="1.25"/><line x1="108.88" y1="477.70" x2="108.88" y2="476.40" stroke="#000" stroke-width="1.25"/><line x1="115.99" y1="17.50" x2="115.99" y2="21.50" stroke="#000" stroke-width="1.25"/><line x1="115.99" y1="317.50" x2="115.99" y2="313.50" stroke="#000" stroke-width="1.25"/><line x1="115.99" y1="317.50" x2="115.99" y2="320.00" stroke="#000" stroke-width="1.25"/><line x1="115.99" y1="477.70" x2="115.99" y2="475.50" stroke="#000" stroke-width="1.25"/><line x1="123.10" y1="17.50" x2="123.10" y2="19.70" stroke="#000" stroke-width="1.25"/><line x1="123.10" y1="317.50" x2="123.10" y2="315.30" stroke="#000" stroke-width="1.25"/><line x1="123.10" y1="317.50" x2="123.10" y2="319.00" stroke="#000" stroke-width="1.25"/><line x1="123.10" y1="477.70" x2="123.10" y2="476.40" stroke="#000" stroke-width="1.25"/><line x1="130.21" y1="17.50" x2="130.21" y2="25.70" stroke="#000" stroke-width="1.25"/><line x1="130.21" y1="317.50" x2="130.21" y2="309.30" stroke="#000" stroke-width="1.25"/><line x1="130.21" y1="317.50" x2="130.21" y2="322.50" stroke="#000" stroke-width="1.25"/><line x1="130.21" y1="477.70" x2="130.21" y2="473.70" stroke="#000" stroke-width="1.25"/><line x1="137.32" y1="17.50" x2="137.32" y2="19.70" stroke="#000" stroke-width="1.25"/><line x1="137.32" y1="317.50" x2="137.32" y2="315.30" stroke="#000" stroke-width="1.25"/><line x1="137.32" y1="317.50" x2="137.32" y2="319.00" stroke="#000" stroke-width="1.25"/><line x1="137.32" y1="477.70" x2="137.32" y2="476.40" stroke="#000" stroke-width="1.25"/><line x1="144.43" y1="17.50" x2="144.43" y2="21.50" stroke="#000" stroke-width="1.25"/><line x1="144.43" y1="317.50" x2="144.43" y2="313.50" stroke="#000" stroke-width="1.25"/><line x1="144.43" y1="317.50" x2="144.43" y2="320.00" stroke="#000" stroke-width="1.25"/><line x1="144.43" y1="477.70" x2="144.43" y2="475.50" stroke="#000" stroke-width="1.25"/><line x1="151.54" y1="17.50" x2="151.54" y2="19.70" stroke="#000" stroke-width="1.25"/><line x1="151.54" y1="317.50" x2="151.54" y2="315.30" stroke="#000" stroke-width="1.25"/><line x1="151.54" y1="317.50" x2="151.54" y2="319.00" stroke="#000" stroke-width="1.25"/><line x1="151.54" y1="477.70" x2="151.54" y2="476.40" stroke="#000" stroke-width="1.25"/><line x1="158.65" y1="17.50" x2="158.65" y2="21.50" stroke="#000" stroke-width="1.25"/><line x1="158.65" y1="317.50" x2="158.65" y2="313.50" stroke="#000" stroke-width="1.25"/><line x1="158.65" y1="317.50" x2="158.65" y2="320.00" stroke="#000" stroke-width="1.25"/><line x1="158.65" y1="477.70" x2="158.65" y2="475.50" stroke="#000" stroke-width="1.25"/><line x1="165.75" y1="17.50" x2="165.75" y2="19.70" stroke="#000" stroke-width="1.25"/><line x1="165.75" y1="317.50" x2="165.75" y2="315.30" stroke="#000" stroke-width="1.25"/><line x1="165.75" y1="317.50" x2="165.75" y2="319.00" stroke="#000" stroke-width="1.25"/><line x1="165.75" y1="477.70" x2="165.75" y2="476.40" stroke="#000" stroke-width="1.25"/><line x1="172.86" y1="17.50" x2="172.86" y2="21.50" stroke="#000" stroke-width="1.25"/><line x1="172.86" y1="317.50" x2="172.86" y2="313.50" stroke="#000" stroke-width="1.25"/><line x1="172.86" y1="317.50" x2="172.86" y2="320.00" stroke="#000" stroke-width="1.25"/><line x1="172.86" y1="477.70" x2="172.86" y2="475.50" stroke="#000" stroke-width="1.25"/><line x1="179.97" y1="17.50" x2="179.97" y2="19.70" stroke="#000" stroke-width="1.25"/><line x1="179.97" y1="317.50" x2="179.97" y2="315.30" stroke="#000" stroke-width="1.25"/><line x1="179.97" y1="317.50" x2="179.97" y2="319.00" stroke="#000" stroke-width="1.25"/><line x1="179.97" y1="477.70" x2="179.97" y2="476.40" stroke="#000" stroke-width="1.25"/><line x1="187.08" y1="17.50" x2="187.08" y2="21.50" stroke="#000" stroke-width="1.25"/><line x1="187.08" y1="317.50" x2="187.08" y2="313.50" stroke="#000" stroke-width="1.25"/><line x1="187.08" y1="317.50" x2="187.08" y2="320.00" stroke="#000" stroke-width="1.25"/><line x1="187.08" y1="477.70" x2="187.08" y2="475.50" stroke="#000" stroke-width="1.25"/><line x1="194.19" y1="17.50" x2="194.19" y2="19.70" stroke="#000" stroke-width="1.25"/><line x1="194.19" y1="317.50" x2="194.19" y2="315.30" stroke="#000" stroke-width="1.25"/><line x1="194.19" y1="317.50" x2="194.19" y2="319.00" stroke="#000" stroke-width="1.25"/><line x1="194.19" y1="477.70" x2="194.19" y2="476.40" stroke="#000" stroke-width="1.25"/><line x1="201.30" y1="17.50" x2="201.30" y2="25.70" stroke="#000" stroke-width="1.25"/><line x1="201.30" y1="317.50" x2="201.30" y2="309.30" stroke="#000" stroke-width="1.25"/><line x1="201.30" y1="317.50" x2="201.30" y2="322.50" stroke="#000" stroke-width="1.25"/><line x1="201.30" y1="477.70" x2="201.30" y2="473.70" stroke="#000" stroke-width="1.25"/><line x1="208.41" y1="17.50" x2="208.41" y2="19.70" stroke="#000" stroke-width="1.25"/><line x1="208.41" y1="317.50" x2="208.41" y2="315.30" stroke="#000" stroke-width="1.25"/><line x1="208.41" y1="317.50" x2="208.41" y2="319.00" stroke="#000" stroke-width="1.25"/><line x1="208.41" y1="477.70" x2="208.41" y2="476.40" stroke="#000" stroke-width="1.25"/><line x1="215.52" y1="17.50" x2="215.52" y2="21.50" stroke="#000" stroke-width="1.25"/><line x1="215.52" y1="317.50" x2="215.52" y2="313.50" stroke="#000" stroke-width="1.25"/><line x1="215.52" y1="317.50" x2="215.52" y2="320.00" stroke="#000" stroke-width="1.25"/><line x1="215.52" y1="477.70" x2="215.52" y2="475.50" stroke="#000" stroke-width="1.25"/><line x1="222.63" y1="17.50" x2="222.63" y2="19.70" stroke="#000" stroke-width="1.25"/><line x1="222.63" y1="317.50" x2="222.63" y2="315.30" stroke="#000" stroke-width="1.25"/><line x1="222.63" y1="317.50" x2="222.63" y2="319.00" stroke="#000" stroke-width="1.25"/><line x1="222.63" y1="477.70" x2="222.63" y2="476.40" stroke="#000" stroke-width="1.25"/><line x1="229.74" y1="17.50" x2="229.74" y2="21.50" stroke="#000" stroke-width="1.25"/><line x1="229.74" y1="317.50" x2="229.74" y2="313.50" stroke="#000" stroke-width="1.25"/><line x1="229.74" y1="317.50" x2="229.74" y2="320.00" stroke="#000" stroke-width="1.25"/><line x1="229.74" y1="477.70" x2="229.74" y2="475.50" stroke="#000" stroke-width="1.25"/><line x1="236.85" y1="17.50" x2="236.85" y2="19.70" stroke="#000" stroke-width="1.25"/><line x1="236.85" y1="317.50" x2="236.85" y2="315.30" stroke="#000" stroke-width="1.25"/><line x1="236.85" y1="317.50" x2="236.85" y2="319.00" stroke="#000" stroke-width="1.25"/><line x1="236.85" y1="477.70" x2="236.85" y2="476.40" stroke="#000" stroke-width="1.25"/><line x1="243.95" y1="17.50" x2="243.95" y2="21.50" stroke="#000" stroke-width="1.25"/><line x1="243.95" y1="317.50" x2="243.95" y2="313.50" stroke="#000" stroke-width="1.25"/><line x1="243.95" y1="317.50" x2="243.95" y2="320.00" stroke="#000" stroke-width="1.25"/><line x1="243.95" y1="477.70" x2="243.95" y2="475.50" stroke="#000" stroke-width="1.25"/><line x1="251.06" y1="17.50" x2="251.06" y2="19.70" stroke="#000" stroke-width="1.25"/><line x1="251.06" y1="317.50" x2="251.06" y2="315.30" stroke="#000" stroke-width="1.25"/><line x1="251.06" y1="317.50" x2="251.06" y2="319.00" stroke="#000" stroke-width="1.25"/><line x1="251.06" y1="477.70" x2="251.06" y2="476.40" stroke="#000" stroke-width="1.25"/><line x1="258.17" y1="17.50" x2="258.17" y2="21.50" stroke="#000" stroke-width="1.25"/><line x1="258.17" y1="317.50" x2="258.17" y2="313.50" stroke="#000" stroke-width="1.25"/><line x1="258.17" y1="317.50" x2="258.17" y2="320.00" stroke="#000" stroke-width="1.25"/><line x1="258.17" y1="477.70" x2="258.17" y2="475.50" stroke="#000" stroke-width="1.25"/><line x1="265.28" y1="17.50" x2="265.28" y2="19.70" stroke="#000" stroke-width="1.25"/><line x1="265.28" y1="317.50" x2="265.28" y2="315.30" stroke="#000" stroke-width="1.25"/><line x1="265.28" y1="317.50" x2="265.28" y2="319.00" stroke="#000" stroke-width="1.25"/><line x1="265.28" y1="477.70" x2="265.28" y2="476.40" stroke="#000" stroke-width="1.25"/><line x1="272.39" y1="17.50" x2="272.39" y2="25.70" stroke="#000" stroke-width="1.25"/><line x1="272.39" y1="317.50" x2="272.39" y2="309.30" stroke="#000" stroke-width="1.25"/><line x1="272.39" y1="317.50" x2="272.39" y2="322.50" stroke="#000" stroke-width="1.25"/><line x1="272.39" y1="477.70" x2="272.39" y2="473.70" stroke="#000" stroke-width="1.25"/><line x1="279.50" y1="17.50" x2="279.50" y2="19.70" stroke="#000" stroke-width="1.25"/><line x1="279.50" y1="317.50" x2="279.50" y2="315.30" stroke="#000" stroke-width="1.25"/><line x1="279.50" y1="317.50" x2="279.50" y2="319.00" stroke="#000" stroke-width="1.25"/><line x1="279.50" y1="477.70" x2="279.50" y2="476.40" stroke="#000" stroke-width="1.25"/><line x1="286.61" y1="17.50" x2="286.61" y2="21.50" stroke="#000" stroke-width="1.25"/><line x1="286.61" y1="317.50" x2="286.61" y2="313.50" stroke="#000" stroke-width="1.25"/><line x1="286.61" y1="317.50" x2="286.61" y2="320.00" stroke="#000" stroke-width="1.25"/><line x1="286.61" y1="477.70" x2="286.61" y2="475.50" stroke="#000" stroke-width="1.25"/><line x1="293.72" y1="17.50" x2="293.72" y2="19.70" stroke="#000" stroke-width="1.25"/><line x1="293.72" y1="317.50" x2="293.72" y2="315.30" stroke="#000" stroke-width="1.25"/><line x1="293.72" y1="317.50" x2="293.72" y2="319.00" stroke="#000" stroke-width="1.25"/><line x1="293.72" y1="477.70" x2="293.72" y2="476.40" stroke="#000" stroke-width="1.25"/><line x1="300.83" y1="17.50" x2="300.83" y2="21.50" stroke="#000" stroke-width="1.25"/><line x1="300.83" y1="317.50" x2="300.83" y2="313.50" stroke="#000" stroke-width="1.25"/><line x1="300.83" y1="317.50" x2="300.83" y2="320.00" stroke="#000" stroke-width="1.25"/><line x1="300.83" y1="477.70" x2="300.83" y2="475.50" stroke="#000" stroke-width="1.25"/><line x1="307.94" y1="17.50" x2="307.94" y2="19.70" stroke="#000" stroke-width="1.25"/><line x1="307.94" y1="317.50" x2="307.94" y2="315.30" stroke="#000" stroke-width="1.25"/><line x1="307.94" y1="317.50" x2="307.94" y2="319.00" stroke="#000" stroke-width="1.25"/><line x1="307.94" y1="477.70" x2="307.94" y2="476.40" stroke="#000" stroke-width="1.25"/><line x1="315.04" y1="17.50" x2="315.04" y2="21.50" stroke="#000" stroke-width="1.25"/><line x1="315.04" y1="317.50" x2="315.04" y2="313.50" stroke="#000" stroke-width="1.25"/><line x1="315.04" y1="317.50" x2="315.04" y2="320.00" stroke="#000" stroke-width="1.25"/><line x1="315.04" y1="477.70" x2="315.04" y2="475.50" stroke="#000" stroke-width="1.25"/><line x1="322.15" y1="17.50" x2="322.15" y2="19.70" stroke="#000" stroke-width="1.25"/><line x1="322.15" y1="317.50" x2="322.15" y2="315.30" stroke="#000" stroke-width="1.25"/><line x1="322.15" y1="317.50" x2="322.15" y2="319.00" stroke="#000" stroke-width="1.25"/><line x1="322.15" y1="477.70" x2="322.15" y2="476.40" stroke="#000" stroke-width="1.25"/><line x1="329.26" y1="17.50" x2="329.26" y2="21.50" stroke="#000" stroke-width="1.25"/><line x1="329.26" y1="317.50" x2="329.26" y2="313.50" stroke="#000" stroke-width="1.25"/><line x1="329.26" y1="317.50" x2="329.26" y2="320.00" stroke="#000" stroke-width="1.25"/><line x1="329.26" y1="477.70" x2="329.26" y2="475.50" stroke="#000" stroke-width="1.25"/><line x1="336.37" y1="17.50" x2="336.37" y2="19.70" stroke="#000" stroke-width="1.25"/><line x1="336.37" y1="317.50" x2="336.37" y2="315.30" stroke="#000" stroke-width="1.25"/><line x1="336.37" y1="317.50" x2="336.37" y2="319.00" stroke="#000" stroke-width="1.25"/><line x1="336.37" y1="477.70" x2="336.37" y2="476.40" stroke="#000" stroke-width="1.25"/><line x1="343.48" y1="17.50" x2="343.48" y2="25.70" stroke="#000" stroke-width="1.25"/><line x1="343.48" y1="317.50" x2="343.48" y2="309.30" stroke="#000" stroke-width="1.25"/><line x1="343.48" y1="317.50" x2="343.48" y2="322.50" stroke="#000" stroke-width="1.25"/><line x1="343.48" y1="477.70" x2="343.48" y2="473.70" stroke="#000" stroke-width="1.25"/><line x1="350.59" y1="17.50" x2="350.59" y2="19.70" stroke="#000" stroke-width="1.25"/><line x1="350.59" y1="317.50" x2="350.59" y2="315.30" stroke="#000" stroke-width="1.25"/><line x1="350.59" y1="317.50" x2="350.59" y2="319.00" stroke="#000" stroke-width="1.25"/><line x1="350.59" y1="477.70" x2="350.59" y2="476.40" stroke="#000" stroke-width="1.25"/><line x1="357.70" y1="17.50" x2="357.70" y2="21.50" stroke="#000" stroke-width="1.25"/><line x1="357.70" y1="317.50" x2="357.70" y2="313.50" stroke="#000" stroke-width="1.25"/><line x1="357.70" y1="317.50" x2="357.70" y2="320.00" stroke="#000" stroke-width="1.25"/><line x1="357.70" y1="477.70" x2="357.70" y2="475.50" stroke="#000" stroke-width="1.25"/><line x1="364.81" y1="17.50" x2="364.81" y2="19.70" stroke="#000" stroke-width="1.25"/><line x1="364.81" y1="317.50" x2="364.81" y2="315.30" stroke="#000" stroke-width="1.25"/><line x1="364.81" y1="317.50" x2="364.81" y2="319.00" stroke="#000" stroke-width="1.25"/><line x1="364.81" y1="477.70" x2="364.81" y2="476.40" stroke="#000" stroke-width="1.25"/><line x1="45.50" y1="458.50" x2="54.50" y2="458.50" stroke="#000" stroke-width="1.25"/><line x1="371.10" y1="458.50" x2="362.10" y2="458.50" stroke="#000" stroke-width="1.25"/><line x1="45.50" y1="442.53" x2="51.00" y2="442.53" stroke="#000" stroke-width="1.25"/><line x1="371.10" y1="442.53" x2="365.60" y2="442.53" stroke="#000" stroke-width="1.25"/><line x1="45.50" y1="429.03" x2="51.00" y2="429.03" stroke="#000" stroke-width="1.25"/><line x1="371.10" y1="429.03" x2="365.60" y2="429.03" stroke="#000" stroke-width="1.25"/><line x1="45.50" y1="417.34" x2="51.00" y2="417.34" stroke="#000" stroke-width="1.25"/><line x1="371.10" y1="417.34" x2="365.60" y2="417.34" stroke="#000" stroke-width="1.25"/><line x1="45.50" y1="407.03" x2="51.00" y2="407.03" stroke="#000" stroke-width="1.25"/><line x1="371.10" y1="407.03" x2="365.60" y2="407.03" stroke="#000" stroke-width="1.25"/><line x1="45.50" y1="397.80" x2="54.50" y2="397.80" stroke="#000" stroke-width="1.25"/><line x1="371.10" y1="397.80" x2="362.10" y2="397.80" stroke="#000" stroke-width="1.25"/><line x1="45.50" y1="389.45" x2="51.00" y2="389.45" stroke="#000" stroke-width="1.25"/><line x1="371.10" y1="389.45" x2="365.60" y2="389.45" stroke="#000" stroke-width="1.25"/><line x1="45.50" y1="381.83" x2="51.00" y2="381.83" stroke="#000" stroke-width="1.25"/><line x1="371.10" y1="381.83" x2="365.60" y2="381.83" stroke="#000" stroke-width="1.25"/><line x1="45.50" y1="374.82" x2="51.00" y2="374.82" stroke="#000" stroke-width="1.25"/><line x1="371.10" y1="374.82" x2="365.60" y2="374.82" stroke="#000" stroke-width="1.25"/><line x1="45.50" y1="368.34" x2="51.00" y2="368.34" stroke="#000" stroke-width="1.25"/><line x1="371.10" y1="368.34" x2="365.60" y2="368.34" stroke="#000" stroke-width="1.25"/><line x1="45.50" y1="362.29" x2="52.50" y2="362.29" stroke="#000" stroke-width="1.25"/><line x1="371.10" y1="362.29" x2="364.10" y2="362.29" stroke="#000" stroke-width="1.25"/><line x1="45.50" y1="356.64" x2="51.00" y2="356.64" stroke="#000" stroke-width="1.25"/><line x1="371.10" y1="356.64" x2="365.60" y2="356.64" stroke="#000" stroke-width="1.25"/><line x1="45.50" y1="351.33" x2="51.00" y2="351.33" stroke="#000" stroke-width="1.25"/><line x1="371.10" y1="351.33" x2="365.60" y2="351.33" stroke="#000" stroke-width="1.25"/><line x1="45.50" y1="346.33" x2="51.00" y2="346.33" stroke="#000" stroke-width="1.25"/><line x1="371.10" y1="346.33" x2="365.60" y2="346.33" stroke="#000" stroke-width="1.25"/><line x1="45.50" y1="341.59" x2="51.00" y2="341.59" stroke="#000" stroke-width="1.25"/><line x1="371.10" y1="341.59" x2="365.60" y2="341.59" stroke="#000" stroke-width="1.25"/><line x1="45.50" y1="337.10" x2="54.50" y2="337.10" stroke="#000" stroke-width="1.25"/><line x1="371.10" y1="337.10" x2="362.10" y2="337.10" stroke="#000" stroke-width="1.25"/><line x1="45.50" y1="332.83" x2="51.00" y2="332.83" stroke="#000" stroke-width="1.25"/><line x1="371.10" y1="332.83" x2="365.60" y2="332.83" stroke="#000" stroke-width="1.25"/><line x1="45.50" y1="328.75" x2="51.00" y2="328.75" stroke="#000" stroke-width="1.25"/><line x1="371.10" y1="328.75" x2="365.60" y2="328.75" stroke="#000" stroke-width="1.25"/><line x1="45.50" y1="324.86" x2="51.00" y2="324.86" stroke="#000" stroke-width="1.25"/><line x1="371.10" y1="324.86" x2="365.60" y2="324.86" stroke="#000" stroke-width="1.25"/><line x1="45.50" y1="321.14" x2="51.00" y2="321.14" stroke="#000" stroke-width="1.25"/><line x1="371.10" y1="321.14" x2="365.60" y2="321.14" stroke="#000" stroke-width="1.25"/><line x1="45.50" y1="317.56" x2="51.00" y2="317.56" stroke="#000" stroke-width="1.25"/><line x1="371.10" y1="317.56" x2="365.60" y2="317.56" stroke="#000" stroke-width="1.25"/>
<line x1="45.5" y1="16.9" x2="45.5" y2="478.8" stroke="#000" stroke-width="1.1"/>
<line x1="371.5" y1="16.9" x2="371.5" y2="478.8" stroke="#000" stroke-width="1.15"/>
<line x1="44.95" y1="17.5" x2="372.05" y2="17.5" stroke="#000" stroke-width="1.15"/>
<line x1="45.5" y1="317.55" x2="371.1" y2="317.55" stroke="#000" stroke-width="1.5"/>
<line x1="44.95" y1="477.9" x2="372.05" y2="477.9" stroke="#000" stroke-width="1.8"/>
<text x="51.4" y="14.2" font-size="12.2">13000 GeV pp</text>
<text x="366.9" y="14.2" font-size="12.2" text-anchor="end">Z (Drell-Yan)</text>
<text x="81.5" y="41.9" font-size="12">Transmin region, 20 &lt; p</text><text x="205.6" y="36.4" font-size="9">Z</text><text x="205.6" y="48.9" font-size="9">T</text><text x="215.2" y="41.9" font-size="12">&lt; 40 [GeV], high thrust</text>
<text x="40.5" y="50.9" font-size="11" text-anchor="end">10</text>
<text x="39.7" y="103.8" font-size="11" text-anchor="end">1</text>
<text x="33.6" y="158" font-size="11" text-anchor="end">10</text><text x="33.4" y="152.7" font-size="7">−1</text>
<text x="31.7" y="212" font-size="11" text-anchor="end">10</text><text x="31.5" y="206.7" font-size="7">−2</text>
<text x="31.7" y="265" font-size="11" text-anchor="end">10</text><text x="31.5" y="259.7" font-size="7">−3</text>
<text x="31.7" y="318" font-size="11" text-anchor="end">10</text><text x="31.5" y="312.7" font-size="7">−4</text>
<text x="38.4" y="341.1" font-size="12" text-anchor="end">2</text>
<text x="373.4" y="341.1" font-size="12">2</text>
<text x="38.4" y="402.1" font-size="12" text-anchor="end">1</text>
<text x="373.4" y="402.1" font-size="12">1</text>
<text x="38.4" y="462.1" font-size="12" text-anchor="end">0.5</text>
<text x="373.4" y="462.1" font-size="12">0.5</text>
<text x="59.12" y="489" font-size="11.5" text-anchor="middle">0</text>
<text x="130.21" y="489" font-size="11.5" text-anchor="middle">1</text>
<text x="201.30" y="489" font-size="11.5" text-anchor="middle">2</text>
<text x="272.39" y="489" font-size="11.5" text-anchor="middle">3</text>
<text x="343.48" y="489" font-size="11.5" text-anchor="middle">4</text>
<text x="318.3" y="502.7" font-size="12.3">N</text><text x="328.6" y="505.9" font-size="8.6">ch</text><text x="335.6" y="502.7" font-size="12.3">/dη dϕ</text>
<text transform="translate(14.8,131.9) rotate(-90)" font-size="11.35">1/N<tspan font-size="8" dy="3.6">ev</tspan><tspan dy="-3.6"> dN</tspan><tspan font-size="8" dy="3.6">ev</tspan><tspan dy="-3.6">/dN</tspan><tspan font-size="8" dy="3.6">ch</tspan><tspan dy="-3.6">/dη dϕ</tspan></text>
<text transform="translate(17.8,396.1) rotate(-90)" font-size="9" text-anchor="middle">Ratio to ATLAS</text>
<text transform="translate(379.2,127.8) rotate(-90)" font-size="9.55" fill="#6a6a6a">Rivet 4.1.0, ≥ 2.2M events</text>
<text transform="translate(381.2,314) rotate(-90)" font-size="9.45" fill="#6a6a6a">mcplots.cern.ch [arXiv:1306.3436]</text>
<rect x="74" y="241.3" width="5" height="5" fill="#000"/>
<text x="93.7" y="246.7" font-size="9.4">ATLAS</text>
<line x1="64" y1="256.5" x2="89" y2="256.5" stroke="#0000ff" stroke-width="1.2"/>
<path d="M73.7,259.2L79.9,259.2L76.8,253.6Z" fill="#0000ff"/>
<text x="93.7" y="259.5" font-size="9.4">Pythia 8.315 default</text>
<line x1="64" y1="269.3" x2="89" y2="269.3" stroke="#1a97c2" stroke-width="1.2" stroke-dasharray="4,1.6,1.2,1.8"/>
<path d="M73.3,266.8L79.5,266.8L76.4,272.2Z" fill="#1a97c2"/>
<text x="93.7" y="271.8" font-size="9.4">Pythia 8.315 vincia-default</text>
<text x="162.7" y="301.5" font-size="8" fill="#8c8c8c">(ATLAS_2019_I1736531)</text>
</svg></body></html>
